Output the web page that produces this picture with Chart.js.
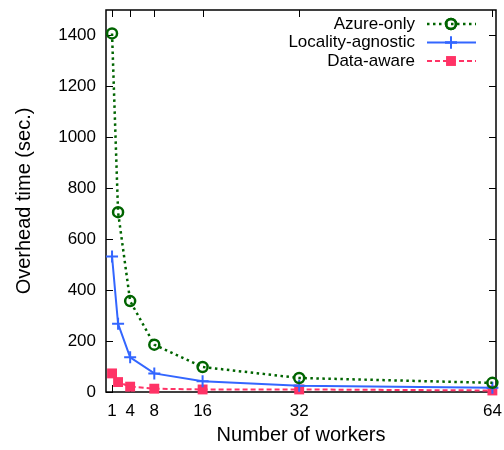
<!DOCTYPE html>
<html lang="en">
<head>
    <meta charset="UTF-8">
    <title>Overhead time</title>
    <script src="https://cdn.jsdelivr.net/npm/chart.js"></script>
    <style>
        body { margin: 0; background: #fff; }
        #wrap { width: 504px; height: 450px; }
    </style>
</head>
<body>
    <div id="wrap"><canvas id="overheadChart"></canvas></div>
    <script>
        // values
        const workers = [1, 2, 4, 8, 16, 32, 64];
        const azureOnly = [1408, 706, 357, 186, 98, 55, 36];
        const localityAgnostic = [532, 268, 136, 73, 42, 25, 17];
        const dataAware = [73, 39, 21, 13, 10, 10, 6];
        const xTicks = [1, 4, 8, 16, 32, 64];
        const yTicks = [0, 200, 400, 600, 800, 1000, 1200, 1400];

        const font = "'Liberation Sans', Arial, Helvetica, sans-serif";

        function pts(ys) {
            return workers.map((x, i) => ({ x: x, y: ys[i] }));
        }

        // gnuplot style frame: border on all sides, ticks pointing inward
        const framePlugin = {
            id: 'frame',
            beforeDatasetsDraw(chart) {
                const ctx = chart.ctx;
                const ca = chart.chartArea;
                const xs = chart.scales.x, ys = chart.scales.y;
                const len = 7;
                ctx.save();
                ctx.strokeStyle = '#000';
                ctx.lineWidth = 1;
                ctx.beginPath();
                xs.ticks.forEach(t => {
                    const px = Math.round(xs.getPixelForValue(t.value)) + 0.5;
                    ctx.moveTo(px, ca.bottom); ctx.lineTo(px, ca.bottom - len);
                    ctx.moveTo(px, ca.top); ctx.lineTo(px, ca.top + len);
                });
                ys.ticks.forEach(t => {
                    const py = Math.round(ys.getPixelForValue(t.value)) + 0.5;
                    ctx.moveTo(ca.left, py); ctx.lineTo(ca.left + len, py);
                    ctx.moveTo(ca.right, py); ctx.lineTo(ca.right - len, py);
                });
                ctx.stroke();
                ctx.lineWidth = 1.5;
                ctx.strokeRect(ca.left, ca.top, ca.right - ca.left, ca.bottom - ca.top);
                ctx.restore();
            }
        };

        // key in the top right corner, text to the left of the sample
        const keyPlugin = {
            id: 'key',
            afterDatasetsDraw(chart) {
                const ctx = chart.ctx;
                const ca = chart.chartArea;
                ctx.save();
                ctx.font = '17px ' + font;
                ctx.textAlign = 'right';
                ctx.textBaseline = 'middle';
                chart.data.datasets.forEach((ds, i) => {
                    const y = ca.top + 14 + i * 18.5;
                    ctx.fillStyle = '#000';
                    ctx.fillText(ds.label, ca.right - 81, y);
                    ctx.save();
                    ctx.strokeStyle = ds.borderColor;
                    ctx.lineWidth = ds.borderWidth;
                    ctx.setLineDash(ds.borderDash || []);
                    ctx.beginPath();
                    ctx.moveTo(ca.right - 69, y);
                    ctx.lineTo(ca.right - 20, y);
                    ctx.stroke();
                    ctx.restore();
                    ctx.fillStyle = ds.pointBackgroundColor;
                    ctx.strokeStyle = ds.pointBorderColor;
                    ctx.lineWidth = ds.pointBorderWidth;
                    Chart.helpers.drawPoint(ctx, {
                        pointStyle: ds.pointStyle,
                        radius: ds.pointRadius,
                        borderWidth: ds.pointBorderWidth,
                        rotation: 0
                    }, ca.right - 45, y);
                    if (ds.pointBorderWidth) ctx.stroke();
                });
                ctx.restore();
            }
        };

        const ctx = document.getElementById('overheadChart').getContext('2d');
        new Chart(ctx, {
            type: 'line',
            data: {
                datasets: [
                    {
                        label: 'Azure-only',
                        data: pts(azureOnly),
                        clip: false,
                        borderColor: '#006400',
                        borderWidth: 2.5,
                        borderDash: [2.5, 3.5],
                        pointStyle: 'circle',
                        pointRadius: 5,
                        pointBorderWidth: 2.5,
                        pointBorderColor: '#006400',
                        pointBackgroundColor: 'rgba(255,255,255,0)'
                    },
                    {
                        label: 'Locality-agnostic',
                        data: pts(localityAgnostic),
                        clip: false,
                        borderColor: '#3366ff',
                        borderWidth: 2,
                        pointStyle: 'cross',
                        pointRadius: 6,
                        pointBorderWidth: 2,
                        pointBorderColor: '#3366ff',
                        pointBackgroundColor: '#3366ff'
                    },
                    {
                        label: 'Data-aware',
                        data: pts(dataAware),
                        clip: false,
                        borderColor: '#ff3366',
                        borderWidth: 2,
                        borderDash: [5, 3],
                        pointStyle: 'rect',
                        pointRadius: 7,
                        pointBorderWidth: 0,
                        pointBorderColor: '#ff3366',
                        pointBackgroundColor: '#ff3366'
                    }
                ]
            },
            options: {
                responsive: true,
                maintainAspectRatio: false,
                animation: false,
                layout: { padding: { top: 10, right: 6, left: 0, bottom: 0 } },
                elements: { line: { tension: 0 } },
                plugins: {
                    legend: { display: false },
                    tooltip: { enabled: false }
                },
                scales: {
                    x: {
                        type: 'linear',
                        min: 0,
                        max: 64.6,
                        afterBuildTicks(scale) {
                            scale.ticks = xTicks.map(v => ({ value: v }));
                        },
                        afterFit(scale) {
                            scale.height = 58;
                            scale.paddingLeft = 0;
                            scale.paddingRight = 0;
                        },
                        grid: { display: false, drawTicks: false },
                        border: { display: false },
                        ticks: {
                            autoSkip: false,
                            maxRotation: 0,
                            padding: 9,
                            color: '#000',
                            font: { family: font, size: 17 },
                            callback: v => String(v)
                        },
                        title: {
                            display: true,
                            text: 'Number of workers',
                            color: '#000',
                            font: { family: font, size: 20 },
                            padding: { top: 0, bottom: 3 }
                        }
                    },
                    y: {
                        min: 0,
                        max: 1500,
                        afterBuildTicks(scale) {
                            scale.ticks = yTicks.map(v => ({ value: v }));
                        },
                        afterFit(scale) {
                            scale.width = 106;
                            scale.paddingTop = 0;
                            scale.paddingBottom = 0;
                        },
                        grid: { display: false, drawTicks: false },
                        border: { display: false },
                        ticks: {
                            padding: 10,
                            color: '#000',
                            font: { family: font, size: 17 },
                            callback: v => String(v)
                        },
                        title: {
                            display: true,
                            text: 'Overhead time (sec.)',
                            color: '#000',
                            font: { family: font, size: 20 },
                            padding: { top: 12, bottom: 0 }
                        }
                    }
                }
            },
            plugins: [framePlugin, keyPlugin]
        });
    </script>
</body>
</html>
